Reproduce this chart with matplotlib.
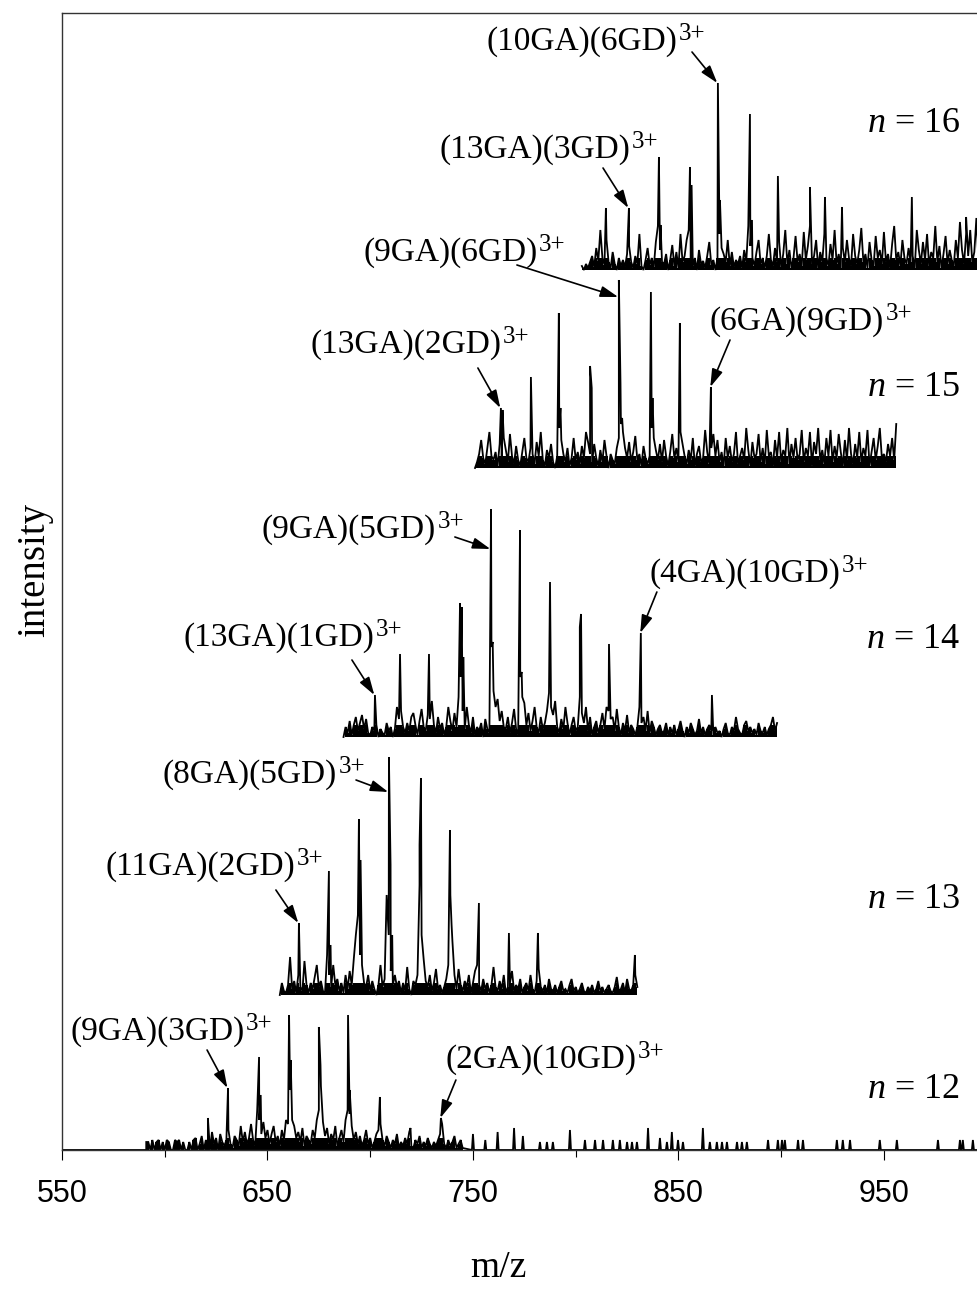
import numpy as np
import matplotlib.pyplot as plt

plt.rcParams['font.family'] = 'Liberation Serif'
plt.rcParams['mathtext.fontset'] = 'custom'
plt.rcParams['mathtext.rm'] = 'Liberation Serif'
plt.rcParams['mathtext.it'] = 'Liberation Serif:italic'

# ---- spectra: grass sampled every 1 m/z, plus the resolved peaks (m/z, height) ----
n16_start = 803
n16_noise = [4, 0, 6, 2, 8, 14, 3, 22, 9, 40, 12, 5, 30, 8, 2, 18, 6, 0, 12, 4,
             10, 3, 16, 24, 8, 2, 14, 6, 36, 4, 0, 10, 22, 5, 12, 3, 28, 44, 20, 8,
             6, 16, 0, 10, 25, 4, 18, 2, 36, 8, 14, 30, 40, 10, 4, 12, 0, 20, 6, 9,
             2, 14, 28, 5, 10, 0, 12, 36, 22, 16, 8, 30, 4, 18, 3, 10, 6, 14, 2, 20,
             8, 44, 24, 12, 4, 18, 30, 6, 12, 2, 14, 36, 10, 4, 22, 8, 28, 3, 16, 40,
             6, 20, 2, 12, 34, 8, 16, 4, 38, 10, 24, 44, 6, 14, 30, 2, 18, 8, 36, 12,
             4, 26, 10, 40, 6, 16, 2, 22, 8, 30, 12, 4, 36, 14, 6, 20, 42, 8, 16, 2,
             28, 10, 4, 34, 12, 20, 6, 38, 8, 16, 2, 26, 44, 10, 18, 4, 30, 12, 6, 22,
             8, 14, 2, 40, 20, 6, 28, 10, 36, 4, 18, 12, 44, 8, 24, 2, 16, 34, 6, 20,
             10, 4, 30, 12, 48, 20, 6, 36, 14, 40, 8, 18, 52, 10]
n16_peak_mz = [814.7, 825.9, 840.5, 841.3, 855.6, 856.4, 869.2, 870.2, 884.8, 885.8,
               898.4, 914.0, 921.3, 929.6, 963.6, 990.0]
n16_peak_h = [62, 62, 113, 45, 103, 85, 187, 70, 156, 50,
              94, 83, 73, 63, 73, 53]

n15_start = 751
n15_noise = [0, 6, 14, 28, 10, 4, 20, 36, 12, 8, 16, 2, 24, 10, 30, 18, 6, 34, 12, 4,
             22, 8, 2, 16, 30, 10, 6, 20, 14, 4, 26, 12, 36, 8, 2, 18, 10, 24, 6, 0,
             12, 40, 28, 14, 6, 20, 2, 10, 30, 8, 16, 4, 22, 10, 36, 26, 14, 6, 24, 10,
             2, 18, 6, 28, 12, 0, 14, 8, 4, 20, 30, 44, 36, 20, 10, 26, 6, 16, 32, 8,
             14, 2, 22, 10, 4, 12, 40, 30, 18, 8, 24, 6, 28, 12, 2, 16, 34, 10, 20, 6,
             36, 24, 12, 4, 18, 8, 30, 2, 14, 22, 6, 10, 38, 16, 4, 20, 34, 12, 28, 6,
             16, 2, 30, 10, 22, 6, 14, 36, 4, 12, 20, 8, 40, 18, 2, 26, 10, 14, 34, 6,
             20, 4, 38, 12, 16, 2, 28, 10, 36, 6, 18, 12, 40, 4, 24, 10, 30, 8, 14, 38,
             6, 20, 12, 36, 2, 26, 14, 40, 8, 18, 4, 30, 12, 38, 6, 22, 10, 34, 16, 2,
             28, 8, 40, 14, 4, 24, 10, 36, 6, 20, 12, 38, 2, 16, 30, 8, 22, 40, 10, 14,
             6, 24, 12, 30, 8, 44]
n15_peak_mz = [763.6, 764.4, 778.2, 791.8, 792.6, 807.0, 807.8, 821.0, 821.8, 822.6,
               836.6, 837.4, 850.7, 865.8]
n15_peak_h = [60, 58, 91, 155, 60, 102, 80, 188, 85, 50,
              176, 70, 145, 81]

n14_start = 687
n14_noise = [0, 10, 4, 16, 2, 12, 20, 6, 14, 22, 8, 18, 4, 2, 10, 6, 12, 0, 8, 4,
             2, 14, 6, 10, 0, 8, 30, 18, 26, 10, 4, 14, 6, 20, 24, 12, 2, 16, 28, 10,
             6, 22, 18, 36, 12, 4, 20, 8, 14, 2, 10, 30, 16, 6, 24, 10, 40, 60, 26, 8,
             30, 12, 4, 20, 2, 10, 6, 14, 0, 18, 8, 4, 90, 46, 30, 38, 16, 26, 10, 8,
             20, 4, 14, 28, 8, 2, 60, 40, 34, 12, 24, 6, 16, 30, 10, 4, 20, 8, 14, 26,
             44, 30, 22, 36, 10, 4, 18, 8, 30, 14, 2, 12, 20, 6, 10, 40, 24, 14, 30, 6,
             20, 2, 10, 16, 4, 12, 24, 8, 30, 26, 18, 20, 6, 28, 10, 2, 14, 6, 22, 4,
             12, 8, 2, 10, 30, 14, 20, 6, 26, 4, 16, 10, 2, 8, 12, 4, 6, 14, 2, 10,
             4, 12, 2, 8, 16, 6, 0, 10, 4, 14, 8, 2, 6, 18, 4, 10, 2, 8, 12, 6,
             2, 10, 4, 6, 0, 8, 14, 4, 2, 10, 6, 20, 8, 4, 2, 12, 16, 6, 10, 4,
             8, 2, 14, 6, 4, 10, 2, 8, 12, 20, 6, 14]
n14_peak_mz = [702.3, 714.5, 728.6, 743.7, 744.5, 745.3, 758.8, 759.6, 772.9, 773.7,
               787.5, 802.0, 802.6, 816.2, 831.7, 866.3]
n14_peak_h = [42, 83, 83, 134, 130, 80, 228, 95, 207, 65,
              155, 110, 123, 93, 104, 42]

n13_start = 656
n13_noise = [0, 12, 4, 2, 10, 38, 6, 14, 2, 20, 8, 4, 34, 10, 2, 12, 6, 18, 30, 8,
             14, 4, 2, 40, 20, 8, 30, 10, 16, 4, 12, 2, 20, 6, 24, 10, 36, 60, 80, 40,
             30, 12, 8, 20, 4, 14, 6, 0, 10, 30, 8, 16, 100, 60, 24, 10, 20, 8, 14, 2,
             12, 4, 28, 6, 0, 14, 10, 20, 110, 60, 36, 14, 8, 20, 4, 12, 26, 6, 10, 2,
             8, 16, 30, 100, 54, 20, 6, 26, 10, 4, 14, 8, 20, 2, 12, 24, 30, 10, 4, 16,
             6, 12, 2, 10, 28, 8, 4, 14, 6, 20, 2, 8, 12, 24, 4, 10, 6, 16, 2, 8,
             12, 4, 20, 6, 2, 14, 26, 8, 4, 10, 2, 16, 6, 4, 10, 2, 8, 14, 4, 6,
             2, 10, 16, 4, 8, 2, 6, 12, 4, 2, 8, 4, 10, 2, 6, 14, 4, 8, 2, 6,
             10, 4, 2, 8, 18, 4, 6, 12, 2, 16, 6, 4, 10, 20, 8]
n13_peak_mz = [665.3, 679.9, 680.7, 694.5, 695.3, 709.1, 709.9, 710.7, 724.0, 724.7,
               738.8, 739.6, 752.9, 767.5, 781.6, 828.8]
n13_peak_h = [72, 124, 50, 176, 135, 238, 130, 60, 150, 217,
              165, 70, 92, 62, 62, 40]

n12_start = 591
n12_noise = [8, 8, 0, 10, 0, 8, 10, 0, 8, 0, 10, 8, 0, 0, 10, 8, 10, 0, 8, 0,
             0, 8, 0, 10, 12, 0, 6, 14, 0, 10, 4, 0, 18, 6, 12, 0, 16, 8, 4, 10,
             20, 6, 2, 14, 10, 4, 24, 8, 18, 6, 12, 26, 10, 4, 40, 30, 16, 28, 12, 20,
             6, 16, 24, 8, 14, 4, 20, 10, 30, 26, 60, 30, 24, 12, 18, 8, 22, 4, 14, 10,
             6, 20, 12, 30, 40, 64, 28, 14, 22, 6, 16, 10, 24, 4, 12, 20, 8, 30, 40, 36,
             24, 10, 18, 6, 14, 4, 10, 20, 6, 12, 2, 8, 16, 20, 26, 10, 4, 14, 8, 2,
             10, 6, 16, 2, 8, 4, 12, 6, 18, 4, 2, 10, 6, 14, 2, 8, 4, 12, 6, 2,
             8, 4, 10, 16, 26, 6, 2, 10, 4, 8, 14, 2, 6, 10, 2]
n12_peak_mz = [621.0, 630.8, 645.9, 646.7, 660.5, 661.3, 675.0, 675.8, 689.2, 690.0,
               704.7, 719.6, 734.4]
n12_peak_h = [32, 62, 93, 55, 135, 90, 123, 85, 135, 60,
              53, 22, 32]
# isolated spikes on the flat tail of the n = 12 trace
n12_spike_mz = [750.0, 756.0, 762.0, 770.0, 774.3, 782.6, 786.0, 788.9, 797.2, 804.5,
                809.4, 813.3, 818.1, 821.5, 825.0, 827.4, 829.8, 835.2, 841.0, 844.4,
                846.8, 849.8, 852.2, 861.9, 865.3, 868.7, 871.2, 873.6, 878.5, 880.9,
                883.3, 893.6, 898.4, 900.4, 901.8, 908.2, 910.6, 927.1, 930.0, 933.5,
                948.0, 956.3, 976.3, 987.0, 988.4, 993.3]
n12_spike_h = [16, 10, 18, 22, 14, 8, 8, 8, 20, 10,
               10, 10, 10, 10, 8, 8, 8, 22, 12, 8,
               18, 10, 8, 22, 8, 8, 8, 8, 8, 8,
               8, 10, 10, 10, 10, 10, 10, 10, 10, 10,
               10, 10, 10, 10, 10, 10]
n12_end = 996

n_values = [16, 15, 14, 13, 12]
baselines = [880, 682, 413, 155, 0]

ion_labels = ['(10GA)(6GD)', '(13GA)(3GD)', '(9GA)(6GD)', '(13GA)(2GD)', '(6GA)(9GD)',
              '(9GA)(5GD)', '(4GA)(10GD)', '(13GA)(1GD)', '(8GA)(5GD)', '(11GA)(2GD)',
              '(9GA)(3GD)', '(2GA)(10GD)']
ion_n = [16, 16, 15, 15, 15, 14, 14, 14, 13, 13, 12, 12]
ion_mz = [869.2, 825.9, 821.0, 763.6, 865.8, 758.8, 831.7, 702.3, 709.1, 665.3, 630.8, 734.4]

# label text (left edge, vertical centre) and arrow tail, in data units
label_xy = [(756.8, 1108), (733.9, 1000), (696.5, 897), (670.7, 805), (865.3, 828),
            (647.3, 620), (836.1, 576), (608.9, 512), (599.1, 375), (571.4, 283),
            (553.9, 118), (736.4, 90)]
tail_xy = [(856.6, 1098), (813.3, 982), (771.4, 885), (752.4, 782), (875.1, 810),
           (741.2, 613), (839.5, 558), (691.1, 490), (693.1, 370), (654.1, 260),
           (620.6, 100), (741.7, 70)]
# how far below the peak top the arrow tip lands
tip_drop = [0, 0, 17, 0, 0, 40, 0, 0, 35, 0, 0, 0]
n_label_y = [1027, 762, 510, 250, 60]

noise_tables = {16: (n16_start, n16_noise), 15: (n15_start, n15_noise),
                14: (n14_start, n14_noise), 13: (n13_start, n13_noise),
                12: (n12_start, n12_noise)}
peak_tables = {16: (n16_peak_mz, n16_peak_h), 15: (n15_peak_mz, n15_peak_h),
               14: (n14_peak_mz, n14_peak_h), 13: (n13_peak_mz, n13_peak_h),
               12: (n12_peak_mz, n12_peak_h)}
BAND = 12  # the lowest part of the grass prints as a blocky dark band


def build(start, noise, peak_mz, peak_h):
    mz = np.concatenate([start + np.arange(len(noise), dtype=float), peak_mz])
    h = np.concatenate([noise, peak_h]).astype(float)
    order = np.argsort(mz, kind='stable')
    return mz[order], h[order]


spectra = {n: build(*noise_tables[n], *peak_tables[n]) for n in [16, 15, 14, 13]}
# n = 12: grass + peaks, then narrow spikes on a flat baseline out to the edge
mz12, h12 = build(*noise_tables[12], *peak_tables[12])
sx, sy = [], []
for m, h in zip(n12_spike_mz, n12_spike_h):
    sx += [m - 0.5, m, m + 0.5]
    sy += [0, h, 0]
mz12 = np.concatenate([[550.0, n12_start - 0.01], mz12, sx, [n12_end]])
h12 = np.concatenate([[0.0, 0.0], h12, sy, [0.0]])
spectra[12] = (mz12, h12)

fig = plt.figure(figsize=(9.77, 12.9), dpi=100)
ax = fig.add_axes([62 / 977, 1 - 1150 / 1290, 1 - 62 / 977, 1137 / 1290])

for n, base, ly in zip(n_values, baselines, n_label_y):
    mz, h = spectra[n]
    ax.plot(mz, h + base, color='black', lw=1.3, solid_joinstyle='miter')
    start, noise = noise_tables[n]
    grass_mz = start + np.arange(len(noise))
    ax.fill_between(grass_mz, base, base + np.minimum(noise, BAND), step='mid',
                    color='black', lw=0)
    ax.text(987, ly, r'$n$ = %d' % n, fontsize=26, ha='right', va='center')

for lab, n, m, (tx, ty), tail, drop in zip(ion_labels, ion_n, ion_mz, label_xy,
                                           tail_xy, tip_drop):
    pm, ph = peak_tables[n]
    tip_y = baselines[n_values.index(n)] + ph[pm.index(m)] - drop
    t = ax.text(tx, ty, lab, fontsize=24, ha='left', va='center')
    ax.annotate('3+', xy=(1.0, 0.57), xycoords=t, xytext=(1, 0),
                textcoords='offset points', fontsize=18, ha='left', va='baseline')
    ax.annotate('', xy=(m - 0.3, tip_y), xytext=tail,
                arrowprops=dict(arrowstyle='-|>,head_length=0.9,head_width=0.28',
                                color='black', lw=1.2, shrinkA=0, shrinkB=0,
                                mutation_scale=12))

ax.set_xlim(550, 995.3)
ax.set_ylim(0, 1137)
ax.set_xticks([550, 650, 750, 850, 950])
ax.set_xticks([600, 700, 800, 900], minor=True)
ax.set_yticks([])
ax.tick_params(axis='x', which='major', direction='out', length=7, width=0.8,
               pad=14, labelsize=22, labelfontfamily='Liberation Sans')
ax.tick_params(axis='x', which='minor', direction='out', length=5, width=0.8)
for side in ['left', 'bottom', 'top']:
    ax.spines[side].set_linewidth(1.0)
    ax.spines[side].set_color('#333333')
ax.spines['right'].set_visible(False)

fig.text(35 / 977, 1 - 570 / 1290, 'intensity', rotation=90, fontsize=28,
         ha='center', va='center')
fig.text(498 / 977, 1 - 1268 / 1290, 'm/z', fontsize=27, ha='center', va='center')

fig.savefig('out.png', dpi=100)
